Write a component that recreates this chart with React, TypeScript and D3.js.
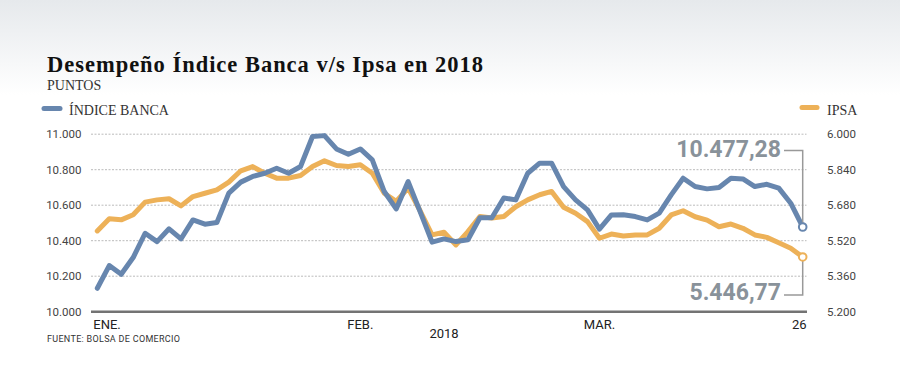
import React from "react";
import * as d3 from "d3";

const banca: number[] = [
  10132, 10260, 10211, 10305, 10442, 10395, 10467, 10410, 10517, 10493, 10502, 10668, 10730, 10762, 10780,
  10808, 10780, 10818, 10987, 10992, 10917, 10887, 10917, 10855, 10677, 10579, 10733, 10564, 10392, 10410,
  10395, 10405, 10529, 10529, 10641, 10630, 10780, 10837, 10837, 10705, 10630, 10574, 10465, 10545, 10546,
  10536, 10517, 10555, 10658, 10752, 10705, 10692, 10700, 10752, 10748, 10705, 10718, 10696, 10611, 10477.28,
];

const ipsa: number[] = [
  5564, 5619, 5614, 5637, 5694, 5704, 5709, 5677, 5719, 5734, 5749, 5784, 5835, 5854, 5824,
  5802, 5802, 5814, 5854, 5880, 5859, 5854, 5862, 5824, 5734, 5697, 5757, 5655, 5546, 5558,
  5501, 5561, 5629, 5622, 5629, 5673, 5704, 5727, 5742, 5671, 5644, 5606, 5531, 5550, 5541,
  5546, 5546, 5576, 5636, 5655, 5628, 5613, 5583, 5595, 5576, 5546, 5535, 5511, 5486, 5446.77,
];

const leftTicks = [10000, 10200, 10400, 10600, 10800, 11000];
const rightTicks = [5200, 5360, 5520, 5680, 5840, 6000];
const xLabels: { i: number; label: string; anchor: string; dx: number }[] = [
  { i: 0, label: "ENE.", anchor: "start", dx: -4 },
  { i: 22, label: "FEB.", anchor: "middle", dx: 0 },
  { i: 42, label: "MAR.", anchor: "middle", dx: 0 },
  { i: 59, label: "26", anchor: "end", dx: 4 },
];

const BLUE = "#6786ae";
const ORANGE = "#edb158";
const GREY_TXT = "#89929a";

const fmtL = (v: number) => d3.format(",")(v).replace(/,/g, ".");
const fmtR = (v: number) => d3.format(".3f")(v / 1000);
const fmtVal = (v: number) => {
  const s = d3.format(",.2f")(v);
  return s.replace(/,/g, "#").replace(".", ",").replace(/#/g, ".");
};

export default function App() {
  const W = 900, H = 378;
  const x = d3.scaleLinear().domain([0, banca.length - 1]).range([97.3, 802.7]);
  const yL = d3.scaleLinear().domain([10000, 11000]).range([311.7, 134.2]);
  const yR = d3.scaleLinear().domain([5200, 6000]).range([311.7, 134.2]);
  const lineL = d3.line<number>().x((_, i) => x(i)).y((d) => yL(d)).curve(d3.curveLinear);
  const lineR = d3.line<number>().x((_, i) => x(i)).y((d) => yR(d)).curve(d3.curveLinear);
  const last = banca.length - 1;
  const lastB = banca[last];
  const lastI = ipsa[last];
  const sans = "Roboto, 'Open Sans', sans-serif";
  const serif = "'Liberation Serif', 'DejaVu Serif', serif";

  return (
    <svg width={W} height={H} style={{ position: "absolute", left: 0, top: 0, background: "#fff" }}>
      <defs>
        <linearGradient id="bg" x1="0" y1="0" x2="0" y2="1">
          <stop offset="0" stopColor="#e6e9ec" />
          <stop offset="1" stopColor="#ffffff" />
        </linearGradient>
      </defs>
      <rect x={0} y={0} width={W} height={95} fill="url(#bg)" />

      <text x={47} y={71.5} fontFamily={serif} fontWeight="bold" fontSize={22.5} fill="#111"
        textLength={436} lengthAdjust="spacing">
        Desempeño Índice Banca v/s Ipsa en 2018
      </text>
      <text x={47} y={89.5} fontFamily={serif} fontSize={14} fill="#333">PUNTOS</text>

      {/* legend */}
      <line x1={44} x2={60} y1={108.5} y2={108.5} stroke={BLUE} strokeWidth={5} strokeLinecap="round" />
      <text x={69} y={115} fontFamily={serif} fontSize={14} fill="#333">ÍNDICE BANCA</text>
      <line x1={802} x2={817} y1={107.5} y2={107.5} stroke={ORANGE} strokeWidth={5} strokeLinecap="round" />
      <text x={827} y={115} fontFamily={serif} fontSize={14} fill="#333">IPSA</text>

      {/* gridlines */}
      {leftTicks.slice(1).map((t) => (
        <line key={t} x1={91} x2={806.5} y1={yL(t)} y2={yL(t)} stroke="#bbb" strokeWidth={1} strokeDasharray="2,1.5" />
      ))}
      <line x1={91} x2={807} y1={yL(10000)} y2={yL(10000)} stroke="#737373" strokeWidth={2.5} />

      {leftTicks.map((t) => (
        <text key={t} x={81.5} y={yL(t) + 4} textAnchor="end" fontFamily={sans} fontSize={11.5} fill="#444">
          {fmtL(t)}
        </text>
      ))}
      {rightTicks.map((t) => (
        <text key={t} x={827} y={yR(t) + 4} textAnchor="start" fontFamily={sans} fontSize={11.5} fill="#444">
          {fmtR(t)}
        </text>
      ))}

      {xLabels.map((l) => (
        <text key={l.label} x={x(l.i) + l.dx} y={329} textAnchor={l.anchor as any} fontFamily={sans} fontSize={13} fill="#222">
          {l.label}
        </text>
      ))}
      <text x={444} y={338} textAnchor="middle" fontFamily={sans} fontSize={13} fill="#222">2018</text>
      <text x={47} y={342} fontFamily={sans} fontSize={9} fill="#333" textLength={133} lengthAdjust="spacing">
        FUENTE: BOLSA DE COMERCIO
      </text>

      {/* series */}
      <path d={lineR(ipsa) || ""} fill="none" stroke={ORANGE} strokeWidth={5} strokeLinejoin="round" strokeLinecap="round" />
      <path d={lineL(banca) || ""} fill="none" stroke={BLUE} strokeWidth={5} strokeLinejoin="round" strokeLinecap="round" />

      {/* annotations */}
      <polyline
        points={`784,${150.5} ${x(last)},${150.5} ${x(last)},${yL(lastB) - 4}`}
        fill="none" stroke="#999" strokeWidth={1.5}
      />
      <polyline
        points={`784,${295} ${x(last)},${295} ${x(last)},${yR(lastI) + 4}`}
        fill="none" stroke="#999" strokeWidth={1.5}
      />
      <circle cx={x(last)} cy={yL(lastB)} r={3.8} fill="#fff" stroke={BLUE} strokeWidth={2} />
      <circle cx={x(last)} cy={yR(lastI)} r={3.8} fill="#fff" stroke={ORANGE} strokeWidth={2} />
      <text x={781} y={157} textAnchor="end" fontFamily={sans} fontWeight="bold" fontSize={23} fill={GREY_TXT}>
        {fmtVal(lastB)}
      </text>
      <text x={781} y={300} textAnchor="end" fontFamily={sans} fontWeight="bold" fontSize={23} fill={GREY_TXT}>
        {fmtVal(lastI)}
      </text>
    </svg>
  );
}
